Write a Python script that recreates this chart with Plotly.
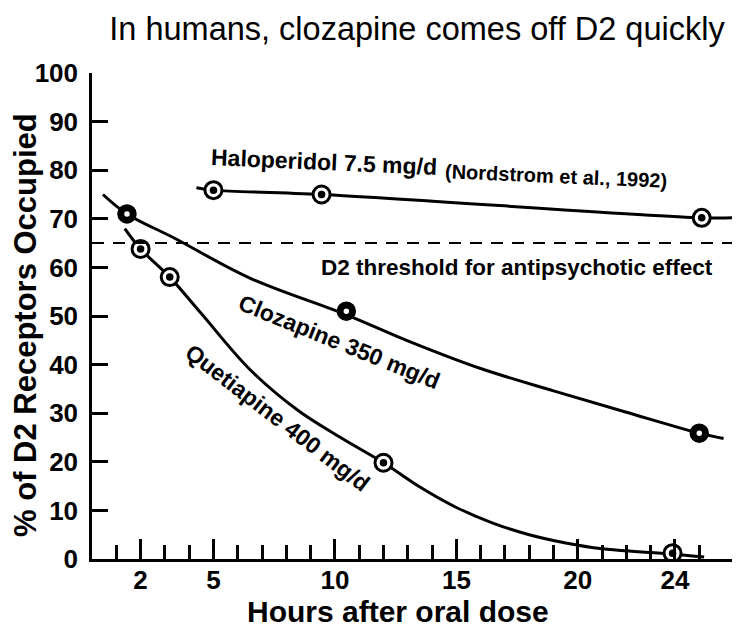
import plotly.graph_objects as go

# hours after the oral dose and % of D2 receptors occupied
halo_hours = [5.0, 9.45, 25.1]
halo_occ = [75.9, 75.0, 70.2]
halo_line_hours = [4.3, 5.0, 9.45, 25.1, 26.4]
halo_line_occ = [76.4, 75.9, 75.0, 70.2, 70.2]

cloz_hours = [1.44, 10.47, 25.0]
cloz_occ = [71.0, 51.0, 25.9]
cloz_line_hours = [0.45, 1.44, 3.4, 6.5, 10.5, 13.0, 16.0, 19.0, 22.0, 25.0, 26.0]
cloz_line_occ = [75.0, 71.0, 66.0, 57.8, 50.2, 44.9, 39.2, 34.6, 30.2, 25.9, 24.8]

quet_hours = [2.0, 3.2, 12.0, 23.9]
quet_occ = [63.8, 58.0, 19.8, 1.2]
quet_line_hours = [1.35, 2.0, 3.2, 4.5, 6.5, 8.5, 10.3, 12.0, 13.5, 15.0, 16.5, 18.0, 19.5, 21.0, 22.5, 24.0, 25.2]
quet_line_occ = [68.0, 63.8, 58.0, 50.5, 39.0, 30.5, 24.8, 19.8, 14.8, 10.6, 7.4, 5.0, 3.3, 2.1, 1.5, 1.0, 0.4]

threshold = 65

x_tick_vals = [2, 5, 10, 15, 20, 24, 25]
x_tick_text = ["2", "5", "10", "15", "20", "24", ""]
x_minor_vals = list(range(1, 26))

FONT = "Liberation Sans, Arial, sans-serif"

fig = go.Figure()

line_style = dict(color="black", width=3)
for hx, hy in [(halo_line_hours, halo_line_occ),
               (cloz_line_hours, cloz_line_occ),
               (quet_line_hours, quet_line_occ)]:
    fig.add_trace(go.Scatter(x=hx, y=hy, mode="lines", line=line_style,
                             line_shape="spline", hoverinfo="skip", showlegend=False))

fig.add_hline(y=threshold, line=dict(color="black", width=2, dash="12px,9px"))

# open circles with a centre dot (haloperidol, quetiapine)
for hx, hy in [(halo_hours, halo_occ), (quet_hours, quet_occ)]:
    fig.add_trace(go.Scatter(x=hx, y=hy, mode="markers", showlegend=False,
                             marker=dict(symbol="circle", size=17, color="white",
                                         line=dict(color="black", width=3))))
    fig.add_trace(go.Scatter(x=hx, y=hy, mode="markers", showlegend=False,
                             marker=dict(symbol="circle", size=7.5, color="black")))

# thick rings (clozapine)
fig.add_trace(go.Scatter(x=cloz_hours, y=cloz_occ, mode="markers", showlegend=False,
                         marker=dict(symbol="circle", size=12.5, color="white",
                                     line=dict(color="black", width=7))))

bold = dict(family=FONT, size=23, color="black", weight="bold")
fig.add_annotation(x=9.55, y=81.7, text="Haloperidol 7.5 mg/d", showarrow=False,
                   textangle=2.5, font=bold)
fig.add_annotation(x=19.1, y=78.9, text="(Nordstrom et al., 1992)", showarrow=False,
                   textangle=2.5, font=dict(bold, size=20))
fig.add_annotation(x=17.5, y=60.0, text="D2 threshold for antipsychotic effect",
                   showarrow=False, font=dict(bold, size=22.5))
fig.add_annotation(x=10.2, y=44.7, text="Clozapine 350 mg/d", showarrow=False,
                   textangle=22, font=bold)
fig.add_annotation(x=7.65, y=29.0, text="Quetiapine 400 mg/d", showarrow=False,
                   textangle=37.5, font=bold)

# axis titles placed as paper annotations
title_font = dict(family=FONT, size=30, color="black", weight="bold")
fig.add_annotation(xref="paper", yref="paper", x=(390 - 84) / 651, y=(551 - 603) / 486,
                   text="Hours after oral dose", showarrow=False, font=title_font,
                   xanchor="center", yanchor="middle")
fig.add_annotation(xref="paper", yref="paper", x=(17 - 84) / 651, y=(551 - 317) / 486,
                   text="% of D2 Receptors Occupied", showarrow=False,
                   font=dict(title_font, size=31),
                   textangle=-90, xanchor="center", yanchor="middle")

fig.update_layout(
    width=740, height=631,
    margin=dict(l=84, r=5, t=65, b=80),
    plot_bgcolor="white", paper_bgcolor="white",
    title=dict(text="In humans, clozapine comes off D2 quickly",
               font=dict(family=FONT, size=32.5, color="black"),
               x=(409 - 84) / 651, xref="paper", xanchor="center",
               y=1 - 21 / 631, yref="container", yanchor="middle"),
    xaxis=dict(range=[0, 26.8], showline=True, linecolor="black", linewidth=2.5,
               showgrid=False, zeroline=False,
               tickmode="array", tickvals=x_tick_vals, ticktext=x_tick_text,
               ticks="inside", ticklen=20, tickwidth=2.5, tickcolor="black",
               ticklabelstandoff=-4,
               minor=dict(tickmode="array", tickvals=x_minor_vals, ticks="inside",
                          ticklen=14, tickwidth=2.5, tickcolor="black"),
               tickfont=dict(family=FONT, size=26, color="black", weight="bold")),
    yaxis=dict(range=[0, 100], dtick=10, showline=True, linecolor="black", linewidth=2.5,
               showgrid=False, zeroline=False,
               ticks="inside", ticklen=16, tickwidth=2.5, tickcolor="black",
               ticklabelstandoff=6,
               tickfont=dict(family=FONT, size=26, color="black", weight="bold")),
)

fig.write_html("out.html")
